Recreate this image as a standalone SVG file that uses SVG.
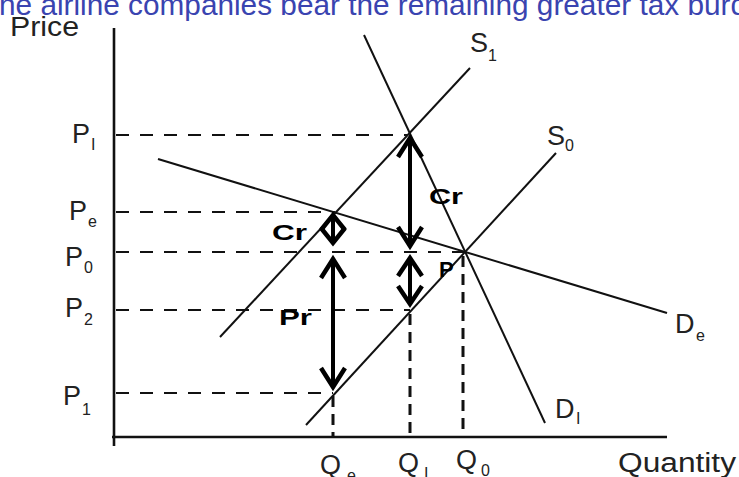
<svg xmlns="http://www.w3.org/2000/svg" width="739" height="477" viewBox="0 0 739 477">
<style>
.ax{stroke:#111;stroke-width:2.6;fill:none}
.cv{stroke:#111;stroke-width:2;fill:none}
.dh{stroke:#111;stroke-width:2.2;stroke-dasharray:13 11;fill:none}
.dv{stroke:#111;stroke-width:3;stroke-dasharray:11 7;fill:none}
.sh{stroke:#000;stroke-width:4;fill:none}
.hd{stroke:#000;stroke-width:4.5;fill:none;stroke-linejoin:miter;stroke-linecap:butt}
.t{font-family:"Liberation Sans",Arial,sans-serif;font-size:27px;fill:#222}
.s{font-family:"Liberation Sans",Arial,sans-serif;font-size:16px;fill:#222}
.b{font-family:"Liberation Sans",Arial,sans-serif;font-size:22px;font-weight:bold;fill:#000}
.ttl{font-family:"Liberation Sans",Arial,sans-serif;font-size:29px;fill:#3a44b0}
</style>
<rect width="739" height="477" fill="#fff"/>
<text class="ttl" x="-1" y="15" textLength="748" lengthAdjust="spacingAndGlyphs">he airline companies bear the remaining greater tax burd</text>
<g id="axes">
<path class="ax" d="M114,28 V446"/>
<path class="ax" d="M112,437 H667"/>
<text class="t" x="10" y="36" textLength="69" lengthAdjust="spacingAndGlyphs">Price</text>
<text class="t" x="618" y="472" textLength="118" lengthAdjust="spacingAndGlyphs">Quantity</text>
</g>
<g id="curves">
<g id="S1"><path class="cv" d="M220,337 L470,68"/><text class="t" x="470" y="52">S</text><text class="s" x="488" y="61">1</text></g>
<g id="S0"><path class="cv" d="M306,425 L556,153"/><text class="t" x="547" y="145">S</text><text class="s" x="565" y="151">0</text></g>
<g id="DI"><path class="cv" d="M364,35 L545,423"/><text class="t" x="555" y="418">D</text><text class="s" x="576" y="424">I</text></g>
<g id="De"><path class="cv" d="M158,159 L667,313"/><text class="t" x="675" y="333">D</text><text class="s" x="696" y="341">e</text></g>
</g>
<g id="guides">
<path class="dh" d="M116,135 H408"/>
<path class="dh" d="M116,212 H335"/>
<path class="dh" d="M116,252 H465"/>
<path class="dh" d="M116,310 H410"/>
<path class="dh" d="M116,393 H333"/>
<path class="dv" d="M333,396 V437"/>
<path class="dv" d="M410,314 V437"/>
<path class="dv" d="M463,256 V437"/>
</g>
<g id="price-labels">
<text class="t" x="72" y="143">P</text><text class="s" x="91" y="150">I</text>
<text class="t" x="69" y="220">P</text><text class="s" x="88" y="227">e</text>
<text class="t" x="65" y="266">P</text><text class="s" x="84" y="273">0</text>
<text class="t" x="65" y="317">P</text><text class="s" x="84" y="325">2</text>
<text class="t" x="63" y="405">P</text><text class="s" x="82" y="415">1</text>
</g>
<g id="qty-labels">
<text class="t" x="320" y="474">Q</text><text class="s" x="347" y="481">e</text>
<text class="t" x="398" y="472">Q</text><text class="s" x="424" y="479">I</text>
<text class="t" x="456" y="469">Q</text><text class="s" x="481" y="476">0</text>
</g>
<g id="connectors">
<path class="sh" d="M410,140 V244"/>
<path class="hd" d="M398,157 L410,138 L422,157"/>
<path class="hd" d="M398,227 L410,246 L422,227"/>
<path class="sh" d="M410,260 V302"/>
<path class="hd" d="M398,276 L410,258 L422,276"/>
<path class="hd" d="M398,286 L410,304 L422,286"/>
<path class="sh" d="M333,216 V242"/>
<path class="hd" d="M321,230 L333,215 L345,230"/>
<path class="hd" d="M321,228 L333,243 L345,228"/>
<path class="sh" d="M333,260 V386"/>
<path class="hd" d="M321,278 L333,259 L345,278"/>
<path class="hd" d="M321,368 L333,387 L345,368"/>
</g>
<g id="burden-labels">
<text class="b" x="272" y="240" textLength="35" lengthAdjust="spacingAndGlyphs">Cr</text>
<text class="b" x="429" y="204" textLength="34" lengthAdjust="spacingAndGlyphs">Cr</text>
<text class="b" x="279" y="325" textLength="33" lengthAdjust="spacingAndGlyphs">Pr</text>
<text class="b" x="439" y="277">P</text>
</g>
</svg>
